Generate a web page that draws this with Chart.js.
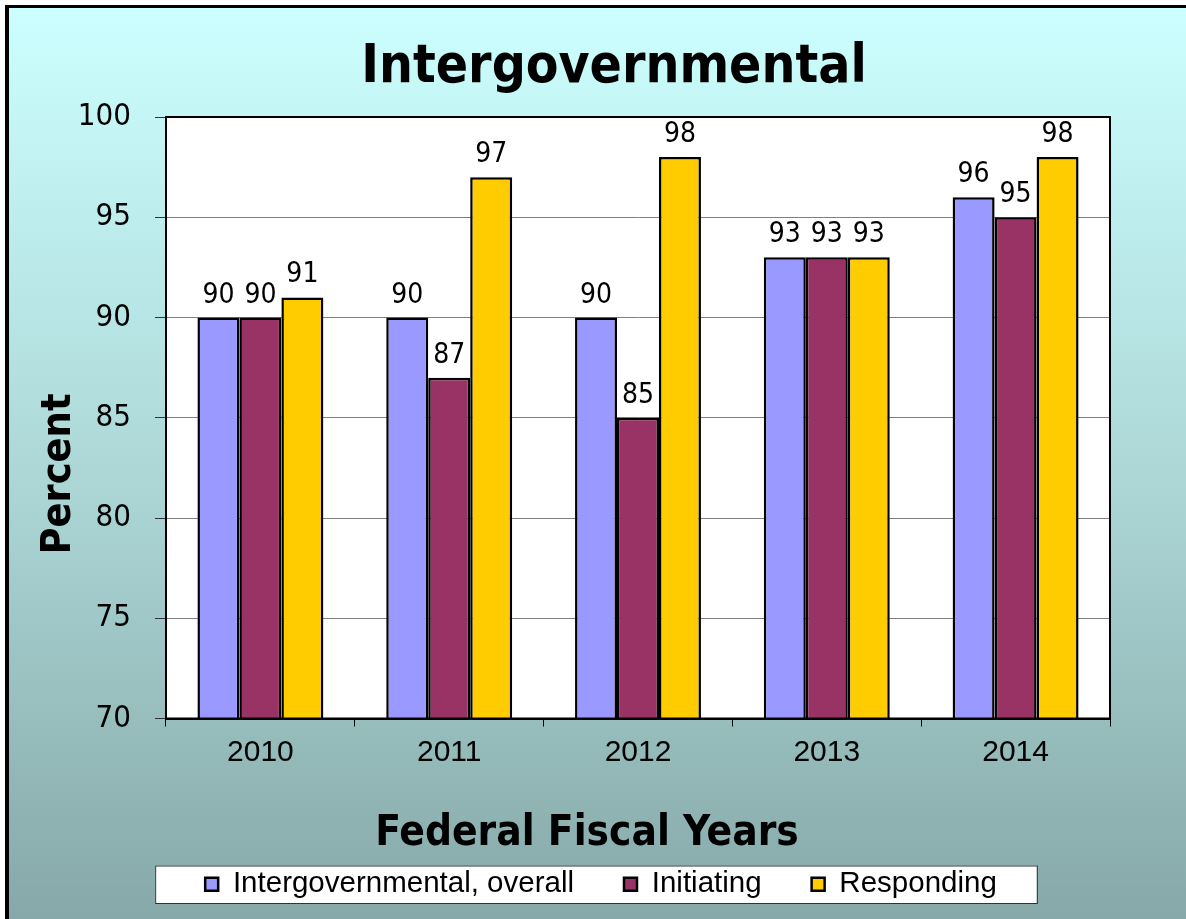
<!DOCTYPE html>
<html>
<head>
<meta charset="utf-8">
<script src="https://cdn.jsdelivr.net/npm/chart.js@4/dist/chart.umd.min.js"></script>
<style>
  html, body { margin: 0; padding: 0; background: #fff; }
  #wrap { width: 1186px; height: 919px; }
</style>
</head>
<body>
<div id="wrap"><canvas id="intergov" width="1186" height="919"></canvas></div>
<script>
const years = ['2010', '2011', '2012', '2013', '2014'];
const overall = [90, 90, 90, 93, 96];
const initiating = [90, 87, 85, 93, 95];
const responding = [91, 97, 98, 93, 98];
const yTicks = [70, 75, 80, 85, 90, 95, 100];

const COND = '"DejaVu Sans Condensed", "DejaVu Sans", sans-serif';
const ARIAL = '"Liberation Sans", Arial, sans-serif';

// slide-style backdrop: gradient panel, dark frame on left/top, white plot area
const backdrop = {
    id: 'backdrop',
    afterLayout(chart) {
        // centre the legend row a bit right of the canvas middle
        const lg = chart.legend;
        const shift = 601 - (lg.left + lg.right) / 2;
        lg.left += shift;
        lg.right += shift;
    },
    beforeDraw(chart) {
        const { ctx, width, height, chartArea: a } = chart;
        ctx.save();
        ctx.fillStyle = '#fff';
        ctx.fillRect(0, 0, width, height);
        const g = ctx.createLinearGradient(0, 8, 0, height);
        g.addColorStop(0, '#ccffff');
        g.addColorStop(0.5, '#aed8d8');
        g.addColorStop(1, '#86a8a8');
        ctx.fillStyle = g;
        ctx.fillRect(9, 8, width - 9, height - 8);
        ctx.fillStyle = '#000';
        ctx.fillRect(5, 5, 4, height - 5);
        ctx.fillRect(5, 5, width - 5, 3);
        ctx.fillStyle = '#fff';
        ctx.fillRect(a.left, a.top, a.right - a.left, a.bottom - a.top);

        // white box behind the legend
        const boxes = chart.legend.legendHitBoxes;
        if (boxes && boxes.length) {
            const first = boxes[0], last = boxes[boxes.length - 1];
            const x0 = first.left - 50, x1 = last.left + last.width + 40;
            const y0 = first.top - 4, y1 = first.top + first.height + 4;
            ctx.fillStyle = '#fff';
            ctx.fillRect(x0, y0, x1 - x0, y1 - y0);
            ctx.strokeStyle = '#333';
            ctx.lineWidth = 1;
            ctx.strokeRect(x0 + 0.5, y0 + 0.5, x1 - x0, y1 - y0);
        }
        ctx.restore();
    },
    afterDraw(chart) {
        const { ctx, chartArea: a } = chart;
        ctx.save();
        ctx.strokeStyle = '#000';
        ctx.lineWidth = 2;
        ctx.strokeRect(a.left, a.top, a.right - a.left, a.bottom - a.top);
        ctx.restore();
    }
};

// chart title and axis titles
const captions = {
    id: 'captions',
    afterDraw(chart) {
        const { ctx } = chart;
        ctx.save();
        ctx.fillStyle = '#000';
        ctx.textAlign = 'center';
        ctx.textBaseline = 'alphabetic';

        ctx.font = 'bold 53px ' + COND;
        ctx.fillText('Intergovernmental', 614, 82);

        ctx.font = 'bold 42px ' + COND;
        ctx.fillText('Federal Fiscal Years', 587, 845);

        ctx.translate(70, 474);
        ctx.rotate(-Math.PI / 2);
        ctx.font = 'bold 41px ' + COND;
        ctx.fillText('Percent', 0, 0);
        ctx.restore();
    }
};

// value labels above each bar
const barValues = {
    id: 'barValues',
    afterDatasetsDraw(chart) {
        const { ctx } = chart;
        ctx.save();
        ctx.fillStyle = '#000';
        ctx.font = '28px ' + COND;
        ctx.textAlign = 'center';
        ctx.textBaseline = 'alphabetic';
        chart.data.datasets.forEach((ds, i) => {
            chart.getDatasetMeta(i).data.forEach((bar, j) => {
                ctx.fillText(String(ds.data[j]), bar.x, bar.y - 15);
            });
        });
        ctx.restore();
    }
};

new Chart(document.getElementById('intergov'), {
    type: 'bar',
    data: {
        labels: years,
        datasets: [
            { label: 'Intergovernmental, overall', data: overall, backgroundColor: '#9999ff' },
            { label: 'Initiating', data: initiating, backgroundColor: '#993366' },
            { label: 'Responding', data: responding, backgroundColor: '#ffcc00' }
        ]
    },
    options: {
        responsive: false,
        animation: false,
        layout: { padding: { left: 9, right: 76, top: 117, bottom: 10 } },
        datasets: {
            bar: {
                borderColor: '#000',
                borderWidth: 2.5,
                borderSkipped: false,
                inflateAmount: 0,
                categoryPercentage: 0.667,
                barPercentage: 1
            }
        },
        plugins: {
            tooltip: { enabled: false },
            legend: {
                position: 'bottom',
                labels: {
                    color: '#000',
                    font: { family: ARIAL, size: 29.5 },
                    boxWidth: 13,
                    boxHeight: 13,
                    padding: 50,
                    generateLabels(chart) {
                        return chart.data.datasets.map((ds, i) => ({
                            text: ds.label,
                            fillStyle: ds.backgroundColor,
                            strokeStyle: '#000',
                            lineWidth: 2.5,
                            fontColor: '#000',
                            datasetIndex: i
                        }));
                    }
                }
            }
        },
        scales: {
            x: {
                grid: {
                    drawOnChartArea: false,
                    color: '#000',
                    tickLength: 8,
                    tickWidth: 1
                },
                border: { color: '#000', width: 2 },
                ticks: { color: '#000', font: { family: ARIAL, size: 30 }, padding: 8 },
                afterFit(scale) { scale.height = 101; }
            },
            y: {
                min: 70,
                max: 100,
                afterBuildTicks(scale) { scale.ticks = yTicks.map(v => ({ value: v })); },
                grid: {
                    color: '#808080',
                    lineWidth: 1,
                    tickColor: '#333',
                    tickLength: 11
                },
                border: { color: '#000', width: 2 },
                ticks: { color: '#000', font: { family: COND, size: 31 }, padding: 24 },
                afterFit(scale) { scale.width = 157; }
            }
        }
    },
    plugins: [backdrop, barValues, captions]
});
</script>
</body>
</html>
